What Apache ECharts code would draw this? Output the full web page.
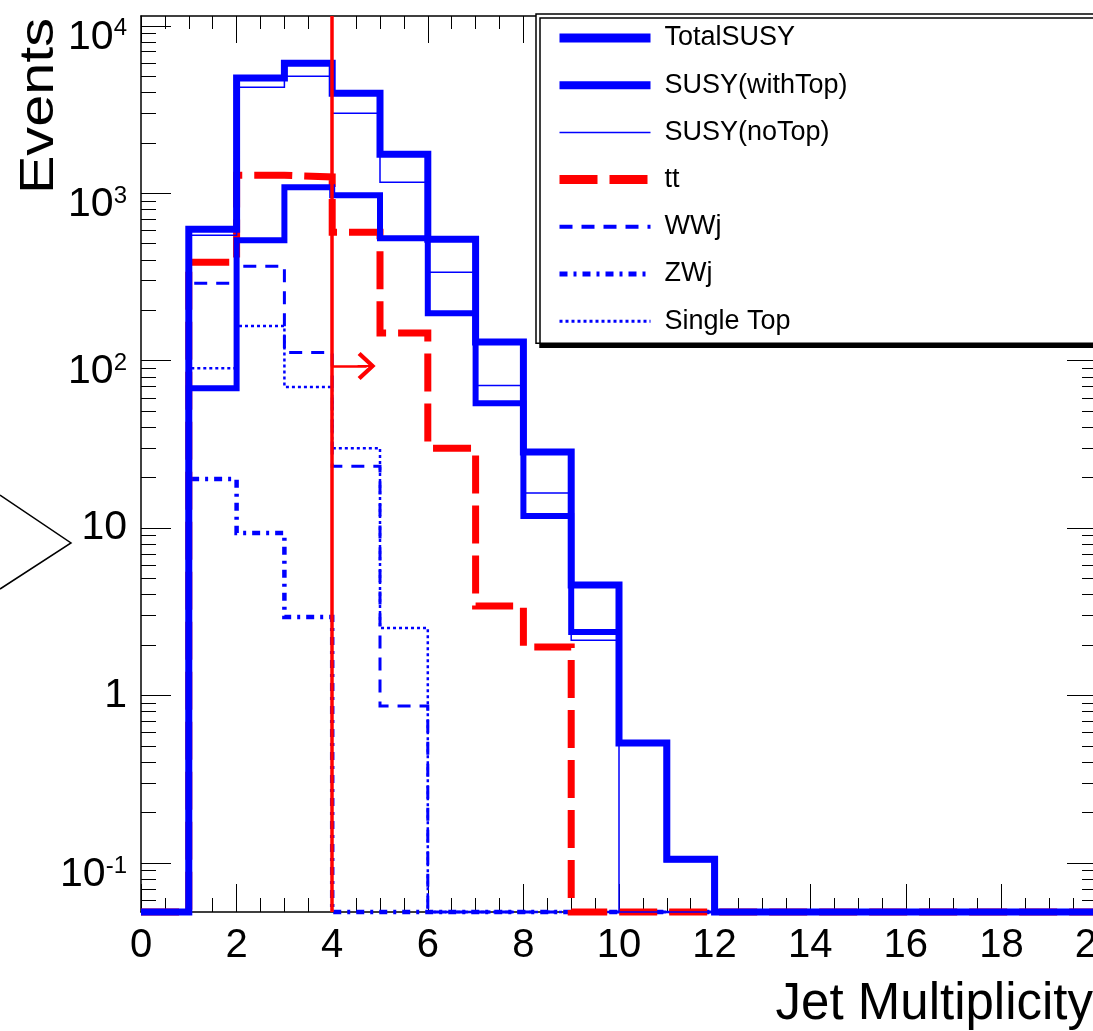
<!DOCTYPE html>
<html><head><meta charset="utf-8">
<script src="https://cdn.jsdelivr.net/npm/echarts@6/dist/echarts.min.js"></script>
<style>html,body{margin:0;padding:0;background:#fff;}#c{width:1093px;height:1031px;}</style>
</head><body><div id="c"></div>
<script>
// ---- data (bins of width 1, lower edges 0..19; 0 = empty bin) ----
const binEdges = [0,1,2,3,4,5,6,7,8,9,10,11,12,13,14,15,16,17,18,19,20];
const totalSUSY = [0,610,4870,5970,3950,1710,531,129,28.5,4.57,0.52,0.105,0,0,0,0,0,0,0,0];
const susyWithTop = [0,68.5,524,1086,973,538,192,55.7,11.8,2.39,0.52,0.105,0,0,0,0,0,0,0,0];
const susyNoTop = [0,561,4300,5000,3005,1164,337,71,16.2,2.14,0,0,0,0,0,0,0,0,0,0];
const ttbar = [0,387,1280,1250,585,146,30,3.42,1.95,0,0,0,0,0,0,0,0,0,0,0];
const wwj = [0,290,366,112,23.4,0.865,0,0,0,0,0,0,0,0,0,0,0,0,0,0];
const zwj = [0,19.6,9.33,2.94,0,0,0,0,0,0,0,0,0,0,0,0,0,0,0,0];
const singleTop = [0,90,161,69.5,30,2.53,0,0,0,0,0,0,0,0,0,0,0,0,0,0];
const legendOrder = ['TotalSUSY','SUSY(withTop)','SUSY(noTop)','tt','WWj','ZWj','Single Top'];
// cut annotation
const cutX = 4;
const arrowY = 93;
const arrowEndX = 4.72;
// axes
const xMin = 0, xMax = 20, xInterval = 2;
const yMin = 0.0509, yMax = 11440;
const yMajorTicks = [0.1,1,10,100,1000,10000];
const yLabelBase = ['10','1','10','10','10','10'];
const yLabelExp = ['-1','','','2','3','4'];
const yMinorTicks = [0.06,0.07,0.08,0.09,0.2,0.3,0.4,0.5,0.6,0.7,0.8,0.9,2,3,4,5,6,7,8,9,20,30,40,50,60,70,80,90,200,300,400,500,600,700,800,900,2000,3000,4000,5000,6000,7000,8000,9000];

const FONT_N = '"Liberation Sans Narrow", "Liberation Sans", Arial, sans-serif';
const blue = '#0000ff', red = '#ff0000';

function hist(vals){
  return binEdges.map((e,i)=>{
    const v = vals[Math.min(i, vals.length-1)];
    return [e, v > 0 ? v : yMin];
  });
}

const seriesDefs = [
  {name:'WWj', vals:wwj, color:blue, width:3, type:[13,9], lw:4},
  {name:'ZWj', vals:zwj, color:blue, width:4.5, type:[8,6,3,6], lw:5},
  {name:'Single Top', vals:singleTop, color:blue, width:2.5, type:[3,3], lw:3},
  {name:'tt', vals:ttbar, color:red, width:7, type:[38,12], lw:9},
  {name:'SUSY(noTop)', vals:susyNoTop, color:blue, width:1.5, type:'solid', lw:1.5},
  {name:'SUSY(withTop)', vals:susyWithTop, color:blue, width:6, type:'solid', lw:8},
  {name:'TotalSUSY', vals:totalSUSY, color:blue, width:7, type:'solid', lw:9}
];

function labelIndex(v){
  for (let i=0;i<yMajorTicks.length;i++){
    if (Math.abs(Math.log10(v) - Math.log10(yMajorTicks[i])) < 1e-6) return i;
  }
  return -1;
}

const tickStyle = {color:'#000', width:1};
function yAxisDef(pos, values, len, labels){
  return {
    type:'log', logBase:10, min:yMin, max:yMax, position:pos,
    axisLine:{show:(!!labels || pos==='right'), onZero:false, lineStyle:{color:'#000', width:1.5}},
    axisTick:{show:true, inside:true, length:len, customValues:values, lineStyle:tickStyle},
    minorTick:{show:false},
    splitLine:{show:false}, minorSplitLine:{show:false},
    axisLabel: labels ? {
      show:true, inside:false, margin:14, customValues:yMajorTicks,
      fontFamily:FONT_N, color:'#000',
      formatter:function(v){
        const i = labelIndex(v);
        if (i < 0) return '';
        if (yLabelExp[i]) return '{b|' + yLabelBase[i] + '}{s|' + yLabelExp[i] + '}';
        return '{n|' + yLabelBase[i] + '}';
      },
      rich:{
        b:{fontSize:41, lineHeight:42, fontFamily:FONT_N, color:'#000', padding:[12,0,0,0], verticalAlign:'top'},
        s:{fontSize:24, lineHeight:26, fontFamily:FONT_N, color:'#000', padding:[12,0,0,0], verticalAlign:'top'},
        n:{fontSize:41, lineHeight:42, fontFamily:FONT_N, color:'#000'}
      }
    } : {show:false}
  };
}

const series = seriesDefs.map(d=>({
  name:d.name, type:'line', step:'end', symbol:'none', clip:false,
  data:hist(d.vals), xAxisIndex:0, yAxisIndex:0,
  lineStyle:{color:d.color, width:d.width, type:d.type, cap:'butt', join:'miter'},
  itemStyle:{color:d.color},
  emphasis:{disabled:true}, silent:true, animation:false
}));
series.push({
  name:'cut', type:'line', data:[], xAxisIndex:0, yAxisIndex:0, z:10, silent:true, animation:false,
  markLine:{
    silent:true, animation:false, symbol:'none', label:{show:false},
    data:[
      {xAxis:cutX, lineStyle:{color:red, width:3.5, type:'solid'}},
      [
        {coord:[cutX, arrowY], symbol:'none', lineStyle:{color:red, width:2.5, type:'solid'}},
        {coord:[arrowEndX, arrowY], symbol:'path://M14 0 L28 15 L25 18 L14 6 L3 18 L0 15 Z M13 1 L15 1 L15 18 L13 18 Z', symbolSize:[28,18]}
      ]
    ]
  }
});

const legendDefs = {};
seriesDefs.forEach(d=>legendDefs[d.name]=d);

const option = {
  backgroundColor:'#ffffff',
  animation:false,
  grid:{left:141, top:16, right:-4, bottom:119, show:false, containLabel:false, outerBoundsMode:'none'},
  xAxis:[
    {type:'value', min:xMin, max:xMax, interval:xInterval, position:'bottom',
     axisLine:{show:true, onZero:false, lineStyle:{color:'#000', width:1.5}},
     axisTick:{show:true, inside:true, length:28, lineStyle:tickStyle},
     minorTick:{show:true, splitNumber:4, length:14, lineStyle:tickStyle},
     splitLine:{show:false}, minorSplitLine:{show:false},
     axisLabel:{show:true, margin:14, fontSize:40, fontFamily:FONT_N, color:'#000', showMinLabel:true, showMaxLabel:true, hideOverlap:false},
     name:'Jet Multiplicity', nameLocation:'end', nameGap:-4, nameMoveOverlap:false,
     nameTextStyle:{fontSize:51, fontFamily:FONT_N, color:'#000', align:'right', verticalAlign:'top', padding:[67,0,0,0]}
    },
    {type:'value', min:xMin, max:xMax, interval:xInterval, position:'top',
     axisLine:{show:true, onZero:false, lineStyle:{color:'#000', width:1.5}},
     axisTick:{show:true, inside:true, length:27, lineStyle:tickStyle},
     minorTick:{show:true, splitNumber:4, length:13, lineStyle:tickStyle},
     splitLine:{show:false}, minorSplitLine:{show:false},
     axisLabel:{show:false}
    }
  ],
  yAxis:[
    yAxisDef('left', yMajorTicks, 30, true),
    yAxisDef('left', yMinorTicks, 15, false),
    yAxisDef('right', yMajorTicks, 30, false),
    yAxisDef('right', yMinorTicks, 15, false)
  ],
  legend:{
    show:true, orient:'vertical', left:536, top:14,
    padding:[6, 600, 4, 19], itemGap:11.2, itemWidth:91, itemHeight:36,
    backgroundColor:'#ffffff', borderColor:'#000', borderWidth:1.5,
    shadowColor:'#000', shadowBlur:0, shadowOffsetX:4, shadowOffsetY:4,
    selectedMode:false,
    itemStyle:{color:'rgba(0,0,0,0)', borderWidth:0, opacity:0},
    textStyle:{fontSize:27, lineHeight:36, fontFamily:FONT_N, color:'#000', padding:[0,0,0,9]},
    data:legendOrder.map(n=>({name:n, lineStyle:{width:legendDefs[n].lw}, itemStyle:{color:'rgba(0,0,0,0)', borderWidth:0, opacity:0}}))
  },
  graphic:[
    {type:'polyline', silent:true, shape:{points:[[0,495],[71,543],[0,589]]}, style:{stroke:'#000', lineWidth:1.5, fill:null}},
    {type:'text', silent:true, x:64, y:18, rotation:Math.PI/2, scaleX:1.2, scaleY:1,
     style:{text:'Events', font:'48px "Liberation Sans", Arial, sans-serif', fill:'#000', align:'right', verticalAlign:'bottom'}}
  ],
  series:series
};

const chart = echarts.init(document.getElementById('c'), null, {renderer:'canvas'});
chart.setOption(option);
</script>
</body></html>
